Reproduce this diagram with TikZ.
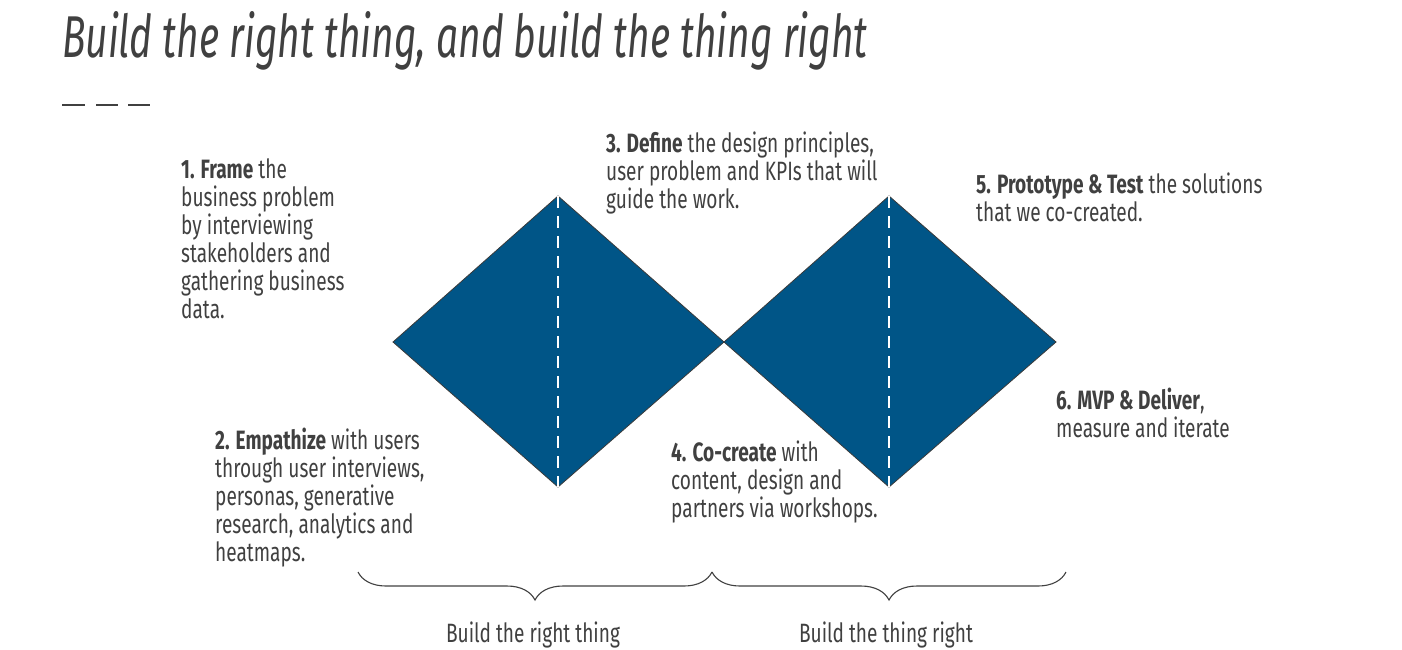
\documentclass[tikz,border=0pt]{standalone}
\usepackage{fontspec}
\setmainfont{Fira Sans}[FakeStretch=0.72]
\newfontfamily\titlefont{Fira Sans}[FakeStretch=0.66]
\usetikzlibrary{decorations.pathreplacing}
\definecolor{txt}{HTML}{404040}
\definecolor{dblue}{HTML}{005587}
\definecolor{edge}{HTML}{3A3A3A}
\tikzset{
  blocktext/.style={anchor=base west, inner sep=0pt, align=left, text=txt,
    font=\fontsize{26.5}{28}\selectfont},
  diam/.style={fill=dblue, draw=edge, line width=0.8pt},
  midline/.style={draw=white, line width=2.4pt, dash pattern=on 12pt off 8pt},
  bracepath/.style={draw=txt, line width=1.1pt,
    decorate, decoration={brace, mirror, amplitude=28pt}},
  dashbar/.style={draw=txt, line width=2pt}
}
\begin{document}
\begin{tikzpicture}[x=1pt,y=-1pt]
\useasboundingbox (0,0) rectangle (1402,649);
% title
\node[anchor=base west, inner sep=0pt, text=txt, font=\titlefont\itshape\fontsize{59}{62}\selectfont] (title) at (62,57) {Build the right thing, and build the thing right};
\coordinate (d1a) at (62,105); \coordinate (d1b) at (85,105);
\coordinate (d2a) at (96,105); \coordinate (d2b) at (118,105);
\coordinate (d3a) at (128,105); \coordinate (d3b) at (150,105);
\draw[dashbar] (d1a) -- (d1b);
\draw[dashbar] (d2a) -- (d2b);
\draw[dashbar] (d3a) -- (d3b);
% diamonds
\coordinate (L) at (393,342); \coordinate (T1) at (558,196);
\coordinate (M) at (724,342); \coordinate (B1) at (558,487);
\coordinate (T2) at (889,196); \coordinate (R) at (1056,342);
\coordinate (B2) at (889,487);
\path[diam] (L) -- (T1) -- (M) -- (B1) -- cycle;
\path[diam] (M) -- (T2) -- (R) -- (B2) -- cycle;
\draw[midline] (T1) -- (B1);
\draw[midline] (T2) -- (B2);
% texts (anchored at the baseline of the last line)
\node[blocktext] (t1) at (181,318) {\textbf{1. Frame} the\\business problem\\by interviewing\\stakeholders and\\gathering business\\data.};
\node[blocktext] (t3) at (606,208) {\textbf{3. Define} the design principles,\\user problem and KPIs that will\\guide the work.};
\node[blocktext] (t5) at (976,221) {\textbf{5. Prototype \& Test} the solutions\\that we co-created.};
\node[blocktext] (t2) at (215,561) {\textbf{2. Empathize} with users\\through user interviews,\\personas, generative\\research, analytics and\\heatmaps.};
\node[blocktext] (t4) at (671,517) {\textbf{4. Co-create} with\\content, design and\\partners via workshops.};
\node[blocktext] (t6) at (1056,437) {\textbf{6. MVP \& Deliver},\\measure and iterate};
% braces
\coordinate (b1) at (358,572); \coordinate (b2) at (712,572); \coordinate (b3) at (1066,572);
\draw[bracepath] (b1) -- (b2);
\draw[bracepath] (b2) -- (b3);
\node[anchor=base, inner sep=0pt, text=txt, font=\fontsize{26.5}{28}\selectfont] (l1) at (533,642) {Build the right thing};
\node[anchor=base, inner sep=0pt, text=txt, font=\fontsize{26.5}{28}\selectfont] (l2) at (886,642) {Build the thing right};
\end{tikzpicture}
\end{document}
